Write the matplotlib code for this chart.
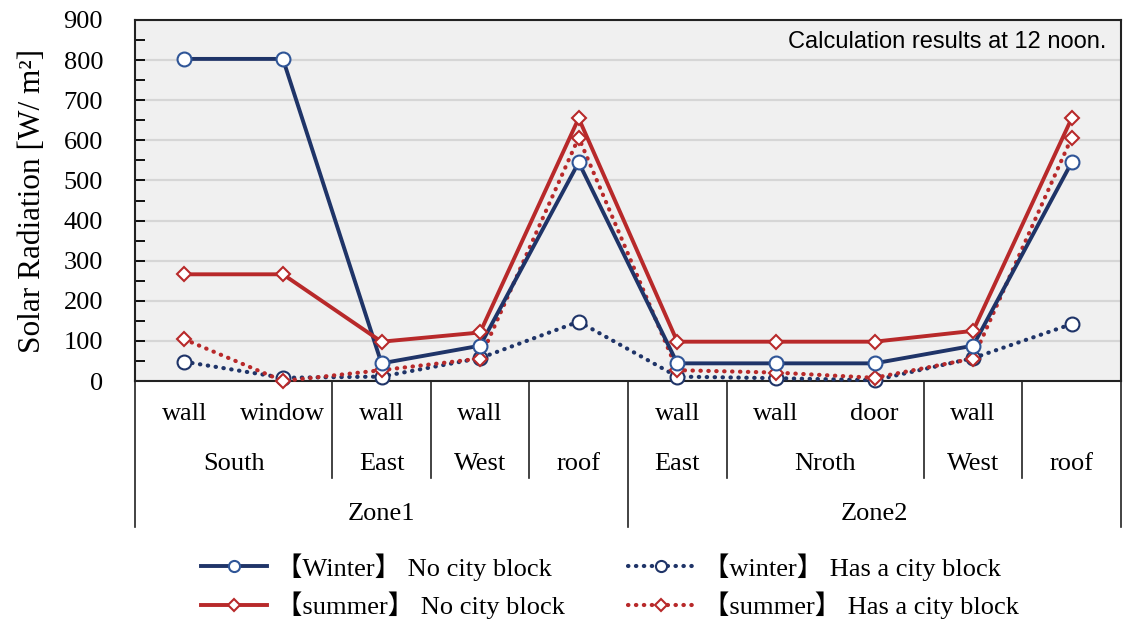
import matplotlib.pyplot as plt
from matplotlib.lines import Line2D

# categories (three-level x axis)
level1 = ['wall', 'window', 'wall', 'wall', '', 'wall', 'wall', 'door', 'wall', '']
level2 = ['South', 'East', 'West', 'roof', 'East', 'Nroth', 'West', 'roof']
level2_pos = [0.5, 2, 3, 4, 5, 6.5, 8, 9]
level3 = ['Zone1', 'Zone2']
level3_pos = [2, 7]

# series values [W/m2]
winter_no = [803, 803, 44, 88, 545, 44, 44, 44, 88, 545]
summer_no = [266, 266, 98, 121, 655, 98, 98, 98, 125, 655]
winter_block = [48, 8, 11, 57, 148, 11, 7, 2, 57, 142]
summer_block = [104, 0, 27, 56, 607, 27, 21, 8, 56, 607]

labels = ['【Winter】 No city block', '【summer】 No city block',
          '【winter】 Has a city block', '【summer】 Has a city block']

navy = '#1f3468'
navy_edge = '#2f5597'
red = '#b8292a'
serif = ['Liberation Serif', 'Noto Sans CJK JP']
fs = 19

fig = plt.figure(figsize=(11.23, 6.21), dpi=100)
ax = fig.add_axes([135 / 1123, 1 - 381 / 621, 986 / 1123, 361 / 621])
ax.set_facecolor('#f0f0f0')

x = list(range(len(level1)))

ax.plot(x, winter_no, color=navy, lw=2.8, marker='o', ms=10,
        mfc='white', mec=navy_edge, mew=1.5, clip_on=False, zorder=4)
ax.plot(x, summer_no, color=red, lw=2.8, marker='D', ms=7.5,
        mfc='white', mec=red, mew=1.5, clip_on=False, zorder=4)
ax.plot(x, winter_block, color=navy, lw=3.0, ls=(0, (0.1, 1.8)),
        dash_capstyle='round', marker='o', ms=10,
        mfc='white', mec=navy, mew=1.5, clip_on=False, zorder=3)
ax.plot(x, summer_block, color=red, lw=3.0, ls=(0, (0.1, 1.8)),
        dash_capstyle='round', marker='D', ms=7.5,
        mfc='white', mec=red, mew=1.5, clip_on=False, zorder=3)

ax.set_xlim(-0.5, 9.5)
ax.set_ylim(0, 900)
ax.set_yticks(range(0, 901, 100))
ax.set_yticks(range(0, 901, 50), minor=True)
ax.set_yticklabels([str(v) for v in range(0, 901, 100)],
                   family='Liberation Serif', fontsize=fs)
ax.tick_params(axis='y', which='both', direction='in', length=7, width=1.3)
ax.tick_params(axis='y', which='major', pad=23)
ax.set_xticks([])
ax.grid(axis='y', color='#d6d6d6', lw=1.6, zorder=0)
ax.set_axisbelow(True)
for s in ax.spines.values():
    s.set_linewidth(1.5)
    s.set_color('#222222')
ax.set_ylabel('Solar Radiation [W/ m²]', family='Liberation Serif',
              fontsize=22.5, labelpad=12)

ax.text(0.985, 0.94, 'Calculation results at 12 noon.',
        transform=ax.transAxes, ha='right', va='center',
        family='Liberation Sans', fontsize=17)

# hierarchical category axis
tr = ax.get_xaxis_transform()
for i, t in enumerate(level1):
    ax.text(i, -0.092, t, transform=tr, ha='center', va='center',
            family='Liberation Serif', fontsize=fs)
for p, t in zip(level2_pos, level2):
    ax.text(p, -0.23, t, transform=tr, ha='center', va='center',
            family='Liberation Serif', fontsize=fs)
for p, t in zip(level3_pos, level3):
    ax.text(p, -0.369, t, transform=tr, ha='center', va='center',
            family='Liberation Serif', fontsize=fs)

for b in [1.5, 2.5, 3.5, 5.5, 7.5, 8.5]:
    ax.add_line(Line2D([b, b], [0, -0.269], transform=tr, color='#222222',
                       lw=1.2, clip_on=False))
for b in [-0.5, 4.5, 9.5]:
    ax.add_line(Line2D([b, b], [0, -0.404], transform=tr, color='#222222',
                       lw=1.2, clip_on=False))

handles = ax.get_lines()[:4]
fig.legend([handles[0], handles[1], handles[2], handles[3]], labels,
           ncol=2, loc='center', bbox_to_anchor=(0.543, 0.056),
           frameon=False, prop={'family': serif, 'size': fs},
           handlelength=2.5, columnspacing=2.4, labelspacing=0.42,
           handletextpad=0.35, markerscale=0.8)

fig.savefig('out.png', dpi=100)
